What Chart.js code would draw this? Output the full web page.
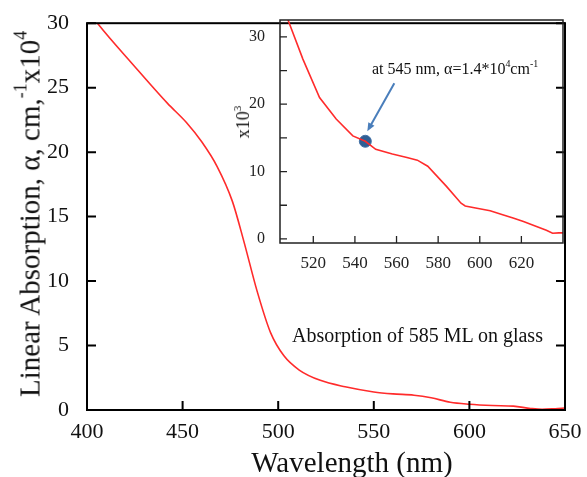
<!DOCTYPE html>
<html lang="en">
<head>
    <meta charset="UTF-8">
    <title>Linear Absorption of 585 ML on glass</title>
    <script src="https://cdn.jsdelivr.net/npm/chart.js@4.4.0/dist/chart.umd.min.js"></script>
    <style>
        body {
            margin: 0;
            background: #fff;
            font-family: "Liberation Serif", serif;
            color: #111;
        }
        .wrap {
            position: relative;
            width: 587px;
            height: 477px;
        }
        canvas {
            position: absolute;
        }
        #mainChart { left: 0; top: 0; }
        #insetChart { left: 230px; top: 0; }
        .label {
            position: absolute;
            white-space: nowrap;
            line-height: 1;
        }
        .sup {
            position: relative;
            font-size: 0.62em;
            top: -0.75em;
        }
        .ytitle {
            left: 30px;
            top: 214px;
            font-size: 29px;
            transform: translate(-50%, -50%) rotate(-90deg);
        }
        .xtitle {
            left: 352px;
            top: 448px;
            font-size: 29px;
            transform: translateX(-50%);
        }
        .insetTitle {
            left: 243px;
            top: 122px;
            font-size: 18px;
            transform: translate(-50%, -50%) rotate(-90deg);
        }
        .note {
            left: 372px;
            top: 61px;
            font-size: 16px;
        }
        .caption {
            left: 292px;
            top: 325px;
            font-size: 20px;
        }
    </style>
</head>
<body>
<div class="wrap">
    <canvas id="mainChart" width="587" height="477"></canvas>
    <canvas id="insetChart" width="350" height="280"></canvas>

    <div class="label ytitle">Linear Absorption, α, cm,<span class="sup">-1</span>x10<span class="sup">4</span></div>
    <div class="label xtitle">Wavelength (nm)</div>
    <div class="label insetTitle">x10<span class="sup">3</span></div>
    <div class="label note">at 545 nm, α=1.4*10<span class="sup">4</span>cm<span class="sup">-1</span></div>
    <div class="label caption">Absorption of 585 ML on glass</div>
</div>

<script>
    // main spectrum, alpha in units of 10^4 cm^-1
    const mainWavelength = [404, 406, 424, 442, 452, 460, 468, 476, 482, 489, 496, 503, 511, 522, 535, 550, 560, 571, 580, 590, 600, 612, 623, 632, 638, 645, 650];
    const mainAlpha = [30.3, 29.9, 26.8, 23.8, 22.3, 20.8, 18.9, 16.2, 13.1, 9.2, 6.0, 4.2, 3.1, 2.3, 1.8, 1.4, 1.25, 1.15, 0.95, 0.6, 0.45, 0.35, 0.3, 0.12, 0.05, 0.1, 0.15];
    const mainXTicks = [400, 450, 500, 550, 600, 650];
    const mainYTicks = [0, 5, 10, 15, 20, 25, 30];

    // inset zoom, alpha in units of 10^3 cm^-1
    const insetWavelength = [506, 508, 515, 523, 531, 539, 545, 550, 558, 565, 570, 575, 584, 591, 593, 598, 605, 611, 616, 621, 626, 632, 635, 638, 640];
    const insetAlpha = [34.5, 32.4, 26.7, 21.0, 17.8, 15.3, 14.5, 13.3, 12.6, 12.1, 11.7, 10.8, 7.8, 5.3, 4.9, 4.6, 4.2, 3.6, 3.1, 2.6, 2.0, 1.3, 0.85, 0.9, 0.9];
    const markWavelength = [545];
    const markAlpha = [14.5];
    const insetXTicks = [520, 540, 560, 580, 600, 620];
    const insetYTicks = [0, 10, 20, 30];
    const insetYMinor = [5, 15, 25];

    const serif = 'Liberation Serif';

    // box round the plot with inward ticks
    const frameTicks = {
        id: 'frameTicks',
        afterDraw(chart, args, opts) {
            const { ctx, chartArea: a, scales: { x, y } } = chart;
            ctx.save();
            ctx.strokeStyle = opts.color;
            ctx.lineWidth = opts.width;
            ctx.strokeRect(a.left, a.top, a.right - a.left, a.bottom - a.top);
            ctx.lineWidth = opts.tickWidth;
            ctx.beginPath();
            opts.xTicks.forEach(v => {
                const px = x.getPixelForValue(v);
                ctx.moveTo(px, a.bottom);
                ctx.lineTo(px, a.bottom - opts.len);
            });
            opts.yTicks.forEach(v => {
                const py = y.getPixelForValue(v);
                ctx.moveTo(a.left, py);
                ctx.lineTo(a.left + opts.len, py);
                if (opts.mirror) {
                    ctx.moveTo(a.right, py);
                    ctx.lineTo(a.right - opts.len, py);
                }
            });
            ctx.stroke();
            ctx.restore();
        }
    };

    // blue arrow pointing at the marked point
    const arrow = {
        id: 'arrow',
        afterDatasetsDraw(chart) {
            const pt = chart.getDatasetMeta(1).data[0];
            if (!pt) return;
            const { ctx } = chart;
            const x0 = pt.x + 29, y0 = pt.y - 58;
            const x1 = pt.x + 2, y1 = pt.y - 10;
            const ang = Math.atan2(y1 - y0, x1 - x0);
            ctx.save();
            ctx.strokeStyle = '#4a7ebb';
            ctx.fillStyle = '#4a7ebb';
            ctx.lineWidth = 2;
            ctx.beginPath();
            ctx.moveTo(x0, y0);
            ctx.lineTo(x1 - 6 * Math.cos(ang), y1 - 6 * Math.sin(ang));
            ctx.stroke();
            ctx.beginPath();
            ctx.moveTo(x1, y1);
            ctx.lineTo(x1 - 9 * Math.cos(ang - 0.4), y1 - 9 * Math.sin(ang - 0.4));
            ctx.lineTo(x1 - 9 * Math.cos(ang + 0.4), y1 - 9 * Math.sin(ang + 0.4));
            ctx.closePath();
            ctx.fill();
            ctx.restore();
        }
    };

    function fixedTicks(list) {
        return scale => { scale.ticks = list.map(v => ({ value: v })); };
    }

    new Chart(document.getElementById('mainChart'), {
        type: 'line',
        data: {
            datasets: [{
                data: mainWavelength.map((w, i) => ({ x: w, y: mainAlpha[i] })),
                borderColor: '#ff2b2b',
                borderWidth: 1.6,
                pointRadius: 0,
                cubicInterpolationMode: 'monotone',
                fill: false
            }]
        },
        options: {
            responsive: false,
            animation: false,
            layout: { padding: { left: 0, top: 19, right: 22, bottom: 0 } },
            plugins: {
                legend: { display: false },
                tooltip: { enabled: false },
                frameTicks: { color: '#000', width: 2, tickWidth: 2, len: 9, xTicks: mainXTicks, yTicks: mainYTicks, mirror: true }
            },
            scales: {
                x: {
                    type: 'linear',
                    min: 400,
                    max: 650,
                    afterBuildTicks: fixedTicks(mainXTicks),
                    afterFit: s => { s.height = 67; },
                    grid: { display: false },
                    border: { display: false },
                    ticks: { padding: 1, autoSkip: false, maxRotation: 0, color: '#111', font: { family: serif, size: 22 } }
                },
                y: {
                    min: 0,
                    max: 30,
                    afterBuildTicks: fixedTicks(mainYTicks),
                    afterFit: s => { s.width = 87; },
                    grid: { display: false },
                    border: { display: false },
                    ticks: { padding: 10, autoSkip: false, color: '#111', font: { family: serif, size: 22 } }
                }
            }
        },
        plugins: [frameTicks]
    });

    new Chart(document.getElementById('insetChart'), {
        type: 'line',
        data: {
            datasets: [{
                data: insetWavelength.map((w, i) => ({ x: w, y: insetAlpha[i] })),
                borderColor: '#ff2b2b',
                borderWidth: 1.6,
                pointRadius: 0,
                tension: 0,
                fill: false
            }, {
                data: markWavelength.map((w, i) => ({ x: w, y: markAlpha[i] })),
                showLine: false,
                pointRadius: 6,
                pointBackgroundColor: '#2f5f94',
                pointBorderColor: '#4471a6',
                pointBorderWidth: 1
            }]
        },
        options: {
            responsive: false,
            animation: false,
            layout: { padding: { left: 0, top: 20, right: 17, bottom: 0 } },
            plugins: {
                legend: { display: false },
                tooltip: { enabled: false },
                frameTicks: { color: '#222', width: 1.5, tickWidth: 1.3, len: 7, xTicks: insetXTicks, yTicks: insetYTicks.concat(insetYMinor), mirror: false }
            },
            scales: {
                x: {
                    type: 'linear',
                    min: 504,
                    max: 640,
                    afterBuildTicks: fixedTicks(insetXTicks),
                    afterFit: s => { s.height = 37; },
                    grid: { display: false },
                    border: { display: false },
                    ticks: { padding: 2, autoSkip: false, maxRotation: 0, color: '#222', font: { family: serif, size: 17 } }
                },
                y: {
                    min: -0.6,
                    max: 32.5,
                    afterBuildTicks: fixedTicks(insetYTicks),
                    afterFit: s => { s.width = 50; },
                    grid: { display: false },
                    border: { display: false },
                    ticks: { padding: 7, autoSkip: false, color: '#222', font: { family: serif, size: 16 } }
                }
            }
        },
        plugins: [frameTicks, arrow]
    });
</script>
</body>
</html>
